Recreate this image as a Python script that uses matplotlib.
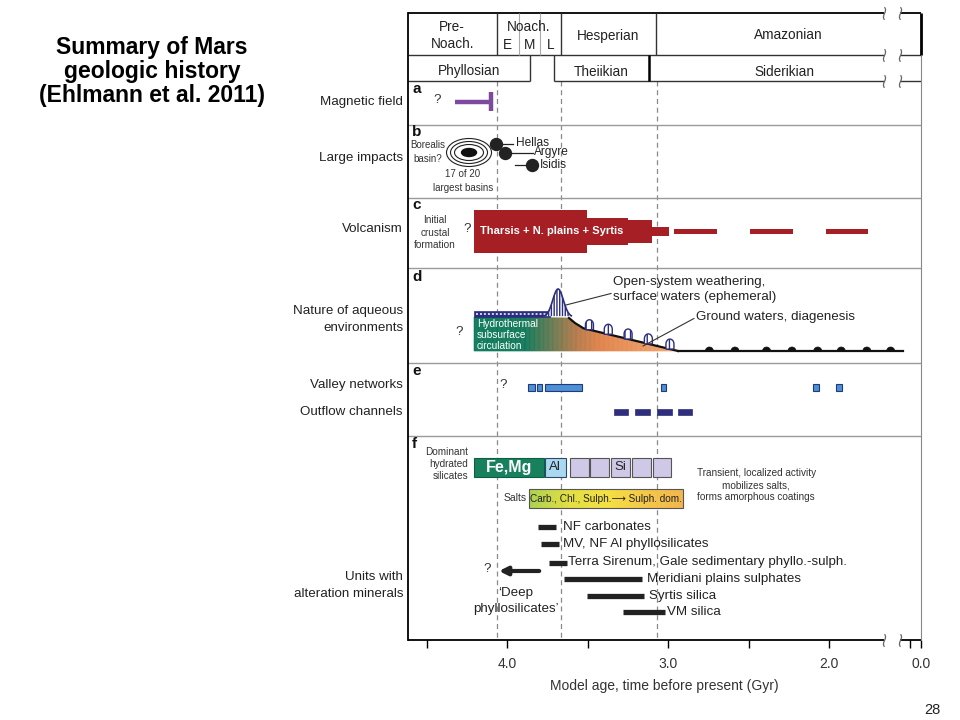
import numpy as np
import matplotlib
matplotlib.use('Agg')
import matplotlib.pyplot as plt
from matplotlib.patches import Rectangle, Polygon, Ellipse
from matplotlib.collections import PolyCollection
from matplotlib.colors import LinearSegmentedColormap
from matplotlib.path import Path

plt.rcParams['font.family'] = ['Liberation Sans', 'DejaVu Sans']
plt.rcParams['hatch.linewidth'] = 1.0

# ---------------- data (ages in Gyr before present) ----------------
epochs = ['Pre-\nNoach.', 'Noach.', 'Hesperian', 'Amazonian']
epoch_edges = [4.615, 4.065, 3.665, 3.075, 0.0]
noach_sub = ['E', 'M', 'L']
noach_sub_edges = [4.065, 3.925, 3.795, 3.665]
eras = ['Phyllosian', 'Theiikian', 'Siderikian']
era_starts = [4.615, 3.71, 3.12]
era_ends = [3.86, 3.12, 0.0]
boundary_ages = [4.065, 3.665, 3.07]

mag_field = [4.325, 4.10]

impact_names = ['Hellas', 'Argyre', 'Isidis']
impact_ages = [4.068, 4.012, 3.845]
borealis_age = 4.236

volc_edges = [4.205, 3.503, 3.248, 3.099, 2.994]
volc_intensity = [1.0, 0.65, 0.52, 0.20]
volc_dash_start = [2.963, 2.491, 2.019]
volc_dash_end = [2.696, 2.224, 1.758]
volc_dash_intensity = 0.11

hydro_span = [4.205, 3.733]
aq_profile_age = [4.205, 3.615, 3.578, 3.525, 2.938]
aq_profile_level = [34, 33, 28, 22.7, 0]
aq_flat_end = 1.54
weathering_peak = 3.683
surface_pulses = [3.488, 3.371, 3.248, 3.122, 2.988]
ground_pulses = [2.743, 2.584, 2.388, 2.230, 2.070, 1.924, 1.765, 1.617]

valley_start = [3.872, 3.816, 3.762, 3.046, 2.099, 1.955]
valley_end = [3.829, 3.780, 3.537, 3.012, 2.065, 1.919]
outflow_start = [3.334, 3.205, 3.070, 2.938]
outflow_end = [3.247, 3.112, 2.977, 2.851]

silicate_labels = ['Fe,Mg', 'Al', '', '', 'Si', '', '']
silicate_start = [4.204, 3.766, 3.609, 3.482, 3.355, 3.221, 3.092]
silicate_end = [3.772, 3.636, 3.493, 3.369, 3.234, 3.104, 2.979]
salts_span = [3.864, 2.904]

unit_names = ['NF carbonates', 'MV, NF Al phyllosilicates',
              'Terra Sirenum, Gale sedimentary phyllo.-sulph.',
              'Meridiani plains sulphates', 'Syrtis silica', 'VM silica']
unit_start = [3.807, 3.789, 3.739, 3.646, 3.503, 3.280]
unit_end = [3.696, 3.677, 3.627, 3.161, 3.149, 3.019]
unit_label_at = [3.653, 3.653, 3.621, 3.130, 3.118, 3.006]
deep_phyllo = [3.80, 4.05]

row_labels = ['Magnetic field', 'Large impacts', 'Volcanism',
              'Nature of aqueous\nenvironments', 'Valley networks',
              'Outflow channels', 'Units with\nalteration minerals']
xticks = [4.5, 4.0, 3.5, 3.0, 2.5, 2.0, 0.5, 0.0]
xticklabels = ['', '4.0', '', '3.0', '', '2.0', '', '0.0']

# ---------------- figure / axes ----------------
fig = plt.figure(figsize=(9.6, 7.2), dpi=100)
L, R, T, B = 408, 921, 13, 640
ax = fig.add_axes([L / 960, (720 - B) / 720, (R - L) / 960, (B - T) / 720])

T_KN = [-1.0, 0.0, 0.5, 1.52, 10.0]
U_KN = [1.4286 - 0.137, 1.4286, 1.497, 1.52, 10.0]
fwd = lambda t: np.interp(t, T_KN, U_KN)
inv = lambda u: np.interp(u, U_KN, T_KN)
ax.set_xscale('function', functions=(fwd, inv))
ax.set_xlim(4.615, 0.0)
ax.set_ylim(B, T)
PX = 1 / 161.0  # Gyr per pixel in the linear part


def mid(a, b):
    return float(inv((fwd(a) + fwd(b)) / 2))


for s in ['top', 'right', 'bottom']:
    ax.spines[s].set_visible(False)
ax.spines['left'].set_linewidth(1.3)
ax.set_yticks([])
ax.set_xticks(xticks)
ax.set_xticklabels(xticklabels)
ax.tick_params(axis='x', direction='out', length=6, width=1.0, pad=6,
               labelsize=10, labelcolor='#333')
ax.set_xlabel('Model age, time before present (Gyr)', fontsize=10,
              color='#333', labelpad=6)

BRK = (1.658, 1.559)
brk_marker = Path([(0.0, -1.0), (-0.6, -0.3), (0.6, 0.3), (0.0, 1.0)],
                  [Path.MOVETO, Path.CURVE4, Path.CURVE4, Path.CURVE4])


def hline_broken(y, a, b, **k):
    kk = dict(clip_on=False, solid_capstyle='butt')
    kk.update(k)
    if a > BRK[0]:
        ax.plot([a, max(b, BRK[0])], [y, y], **kk)
    if b < BRK[1]:
        ax.plot([min(a, BRK[1]), b], [y, y], **kk)


def vline(t, y0, y1, **k):
    kk = dict(clip_on=False, solid_capstyle='butt')
    kk.update(k)
    ax.plot([t, t], [y0, y1], **kk)


# header frame
hline_broken(13, 4.615, 0.0, color='black', lw=1.3)
hline_broken(55, 4.615, 0.0, color='#333', lw=1.0)
hline_broken(81, era_starts[0], era_ends[0], color='#333', lw=1.0)
hline_broken(81, era_starts[1], 0.0, color='#333', lw=1.0)
hline_broken(640, 4.615, 0.0, color='black', lw=1.3)
for yb in [13, 55, 81, 640]:
    ax.plot(list(BRK), [yb, yb], ls='none', marker=brk_marker, ms=9,
            mfc='none', mec='#666', mew=0.9, clip_on=False, zorder=10)
vline(0.0, 13, 55, color='black', lw=2.0)
vline(0.0, 55, 640, color='#888', lw=0.8)

for e in epoch_edges[1:-1]:
    vline(e, 13, 55, color='#333', lw=1.0)
for e in noach_sub_edges[1:-1]:
    vline(e, 13, 55, color='#aaa', lw=0.8)
vline(era_ends[0], 55, 81, color='#333', lw=1.0)
vline(era_starts[1], 55, 81, color='#333', lw=1.0)
vline(era_starts[2], 55, 81, color='black', lw=1.8)

hdr = dict(fontsize=9.8, color='#222', ha='center', va='center')
ax.text(mid(epoch_edges[0], epoch_edges[1]), 35.5, epochs[0], linespacing=1.25, **hdr)
ax.text(mid(epoch_edges[1], epoch_edges[2]), 27, epochs[1], **hdr)
for i, s in enumerate(noach_sub):
    ax.text(mid(noach_sub_edges[i], noach_sub_edges[i + 1]), 45, s, **hdr)
ax.text(mid(epoch_edges[2], epoch_edges[3]), 36, epochs[2], **hdr)
ax.text(mid(epoch_edges[3], epoch_edges[4]), 35, epochs[3], **hdr)
for i, s in enumerate(eras):
    ax.text(mid(era_starts[i], era_ends[i]), 71.5, s, **hdr)

# boundaries and panel separators
for b in boundary_ages:
    ax.plot([b, b], [81, 640], color='#8a8a8a', lw=0.9, ls=(0, (4, 3)), zorder=1)
for ys in [125, 198, 268, 363, 436]:
    ax.plot([4.615, 0.0], [ys, ys], color='#9a9a9a', lw=1.0, zorder=1)

# panel letters
for lt, yl in zip('abcdef', [89, 132, 205, 277, 371, 444]):
    ax.text(4.59, yl, lt, fontsize=11, fontweight='bold', ha='left', va='center', color='#111')

# left row labels
for s, yl in zip(row_labels, [102, 158, 229, 319.5, 385, 412, 585.5]):
    fig.text(403 / 960, 1 - yl / 720, s, fontsize=9.6, ha='right', va='center',
             color='#222', linespacing=1.45)

# title
fig.text(152 / 960, 1 - 71.5 / 720, 'Summary of Mars\ngeologic history\n(Ehlmann et al. 2011)',
         fontsize=16.5, fontweight='bold', ha='center', va='center', linespacing=1.05)
fig.text(932 / 960, 1 - 710 / 720, '28', fontsize=10.5, ha='center', va='center', color='#222')

small = dict(fontsize=7.2, color='#333')

# ---- a: magnetic field
purple = '#7D4A9E'
ax.text(4.435, 100, '?', fontsize=9.5, ha='center', va='center', color='#333')
ax.plot(mag_field, [102, 102], color=purple, lw=3.2, solid_capstyle='butt')
ax.plot([mag_field[1], mag_field[1]], [92, 111], color=purple, lw=3.2, solid_capstyle='butt')

# ---- b: large impacts
for k, (w, h) in enumerate([(45, 28), (37, 22), (29, 16)]):
    ax.add_patch(Ellipse((borealis_age, 152.5), w * PX, h, fill=False, ec='#222', lw=0.8))
ax.add_patch(Ellipse((borealis_age, 152.5), 15 * PX, 8, fc='#111', ec='#111'))
ax.text(4.49, 152, 'Borealis\nbasin?', ha='center', va='center', linespacing=1.5, fontsize=7, color='#333')
ax.text(4.273, 181, '17 of 20\nlargest basins', ha='center', va='center', linespacing=1.5, fontsize=7, color='#333')
ax.plot(impact_ages, [143.5, 152.7, 165], ls='none', marker='o', ms=8.6, color='#222', zorder=6)
ax.plot([impact_ages[0], impact_ages[0] - 17 * PX], [143.5, 143.5], color='#222', lw=0.9)
ax.plot([impact_ages[1], impact_ages[1] - 28 * PX], [152.7, 152.7], color='#222', lw=0.9)
ax.plot([impact_ages[2] + 17 * PX, impact_ages[2]], [165, 165], color='#222', lw=0.9)
ax.text(impact_ages[0] - 20 * PX, 142.5, impact_names[0], fontsize=8.6, ha='left', va='center', color='#222')
ax.text(impact_ages[1] - 29 * PX, 152.5, impact_names[1], fontsize=8.6, ha='left', va='center', color='#222')
ax.text(impact_ages[2] - 8 * PX, 165, impact_names[2], fontsize=8.6, ha='left', va='center', color='#222')

# ---- c: volcanism
red = '#A51F25'
yc, hmax = 231.5, 43.0
inten = np.r_[volc_intensity, volc_intensity[-1]]
ax.fill_between(volc_edges, yc - hmax * inten / 2, yc + hmax * inten / 2, step='post',
                color=red, lw=0, zorder=3)
for a, b in zip(volc_dash_start, volc_dash_end):
    ax.add_patch(Rectangle((a, yc - hmax * volc_dash_intensity / 2), b - a,
                           hmax * volc_dash_intensity, color=red, lw=0, zorder=3))
ax.text(4.168, 231, 'Tharsis + N. plains + Syrtis', color='white', fontsize=8,
        fontweight='bold', ha='left', va='center', zorder=5)
ax.text(4.447, 232.5, 'Initial\ncrustal\nformation', ha='center', va='center', linespacing=1.3, **small)
ax.text(4.248, 229, '?', fontsize=9.5, ha='center', va='center', color='#333')

# ---- d: aqueous environments
navy = '#2B2E7E'
base = 351.0
cmap = LinearSegmentedColormap.from_list('aq', [(0, '#0D7B5B'), (0.25, '#12795A'),
                                               (0.5, '#B37A4A'), (0.62, '#E0834A'),
                                               (1.0, '#F4A870')])
edges = np.linspace(aq_profile_age[0], aq_profile_age[-1], 161)
polys, cols = [], []
prof_t = aq_profile_age[::-1]
prof_h = aq_profile_level[::-1]
for i in range(len(edges) - 1):
    a, b = edges[i], edges[i + 1]
    ha_, hb_ = np.interp(a, prof_t, prof_h), np.interp(b, prof_t, prof_h)
    polys.append([(a, base), (a, base - ha_), (b, base - hb_), (b, base)])
    cols.append(cmap(i / (len(edges) - 2)))
ax.add_collection(PolyCollection(polys, facecolors=cols, edgecolors=cols, lw=0.4, zorder=3))
# band on top of hydrothermal block
ax.add_patch(Rectangle((hydro_span[0], 311), hydro_span[1] - hydro_span[0], 6, fc=navy, ec=navy, lw=0.5, zorder=4))
ax.plot([hydro_span[0] - 2 * PX, hydro_span[1] + 2 * PX], [314, 314], color='white', lw=1.1,
        ls=(0, (1.3, 1.3)), zorder=4.5)
# weathering bell
off = np.linspace(-14, 14, 60)
bell_y = 317 - 28 * np.exp(-0.5 * (off / 5.3) ** 2)
ax.add_patch(Polygon(np.c_[weathering_peak - off * PX, bell_y], closed=False, fc='white', ec=navy,
                     hatch='||||||', lw=1.2, zorder=5))
# slope outline and flat groundwater line
ax.plot(aq_profile_age[1:], base - np.array(aq_profile_level[1:]), color='#111', lw=1.6, zorder=6)
ax.plot([aq_profile_age[-1], aq_flat_end], [base, base], color='#111', lw=1.6, zorder=6)
# surface water pulses along slope
ang = np.linspace(0, np.pi, 20)
for p in surface_pulses:
    yb = base - np.interp(p, prof_t, prof_h)
    xs = np.r_[4, 4 * np.cos(ang), -4]
    ys = np.r_[0, 5 + 5 * np.sin(ang), 0]
    ax.add_patch(Polygon(np.c_[p - xs * PX, yb - ys], closed=True, fc='white', ec=navy,
                         hatch='|||', lw=1.0, zorder=7))
# ground water pulses
for p in ground_pulses:
    xs = 4 * np.cos(ang)
    ys = 4 * np.sin(ang)
    ax.add_patch(Polygon(np.c_[p - xs * PX, base - ys], closed=True, fc='#111', ec='#111', lw=0.5, zorder=7))
ax.text(4.186, 335, 'Hydrothermal\nsubsurface\ncirculation', color='white', fontsize=7.3,
        ha='left', va='center', linespacing=1.1, zorder=8)
ax.text(4.298, 332, '?', fontsize=9.5, ha='center', va='center', color='#333')
ax.text(3.342, 289.5, 'Open-system weathering,\nsurface waters (ephemeral)', fontsize=9.6,
        ha='left', va='center', linespacing=1.35, color='#222')
ax.plot([3.634, 3.354], [305, 293.5], color='#333', lw=0.8, zorder=8)
ax.text(2.826, 317, 'Ground waters, diagenesis', fontsize=9.6, ha='left', va='center', color='#222')
ax.plot([3.155, 2.839], [346, 318.5], color='#333', lw=0.8, zorder=8)

# ---- e: valley networks and outflow channels
for a, b in zip(valley_start, valley_end):
    ax.add_patch(Rectangle((a, 383.5), b - a, 7, fc='#4E8FD6', ec='#1F3C7A', lw=0.8, zorder=3))
for a, b in zip(outflow_start, outflow_end):
    ax.add_patch(Rectangle((a, 409), b - a, 5.5, fc='#2E2E7C', ec='#2E2E7C', lw=0.5, zorder=3))
ax.text(4.025, 385.5, '?', fontsize=9.5, ha='center', va='center', color='#333')

# ---- f: hydrated silicates, salts, units
sil_fc = ['#17805D', '#A9D8F0'] + ['#CFC8E7'] * 5
sil_ec = ['#0E5E44', '#2A4A6A'] + ['#555'] * 5
for lab, a, b, fc, ec in zip(silicate_labels, silicate_start, silicate_end, sil_fc, sil_ec):
    ax.add_patch(Rectangle((a, 458), b - a, 19, fc=fc, ec=ec, lw=0.8, zorder=3))
    if lab:
        bold = lab == 'Fe,Mg'
        ax.text((a + b) / 2, 467.5, lab, ha='center', va='center', zorder=4,
                fontsize=11.5 if bold else 9.5, fontweight='bold' if bold else 'normal',
                color='white' if bold else '#222')
ax.text(4.242, 464, 'Dominant\nhydrated\nsilicates', ha='right', va='center', linespacing=1.3, **small)

scm = LinearSegmentedColormap.from_list('salt', ['#A9D04C', '#E2DE3C', '#F4E03C', '#F4C644', '#F2B446'])
sedges = np.linspace(salts_span[0], salts_span[1], 121)
polys, cols = [], []
for i in range(len(sedges) - 1):
    a, b = sedges[i], sedges[i + 1]
    polys.append([(a, 489), (a, 508), (b, 508), (b, 489)])
    cols.append(scm(i / (len(sedges) - 2)))
ax.add_collection(PolyCollection(polys, facecolors=cols, edgecolors=cols, lw=0.4, zorder=3))
ax.add_patch(Rectangle((salts_span[0], 489), salts_span[1] - salts_span[0], 19, fill=False,
                       ec='#555', lw=0.8, zorder=4))
ax.text(mid(salts_span[0], salts_span[1]), 498.5, 'Carb., Chl., Sulph.\u27f6 Sulph. dom.',
        fontsize=7.2, ha='center', va='center', color='#222', zorder=5)
ax.text(3.876, 498, 'Salts', ha='right', va='center', fontsize=7.5, color='#333')
ax.text(2.453, 485, 'Transient, localized activity\nmobilizes salts,\nforms amorphous coatings',
        ha='center', va='center', linespacing=1.25, **small)

for yb, a, b, nm, lx in zip([527, 544, 562.5, 579.3, 596, 611.7], unit_start, unit_end,
                            unit_names, unit_label_at):
    ax.plot([a, b], [yb, yb], color='#222', lw=3.8, solid_capstyle='butt', zorder=3)
    ax.text(lx, yb, nm, fontsize=9.6, ha='left', va='center', color='#222')
ax.annotate('', xy=(deep_phyllo[1], 571), xytext=(deep_phyllo[0], 571),
            arrowprops=dict(arrowstyle='-|>', lw=3.0, color='#222', mutation_scale=12,
                            shrinkA=0, shrinkB=0), zorder=3)
ax.text(4.124, 569, '?', fontsize=9.5, ha='center', va='center', color='#333')
ax.text(3.944, 601, '\u2018Deep\nphyllosilicates\u2019', fontsize=9.6, ha='center', va='center',
        linespacing=1.4, color='#222')

fig.savefig('out.png', dpi=100)
